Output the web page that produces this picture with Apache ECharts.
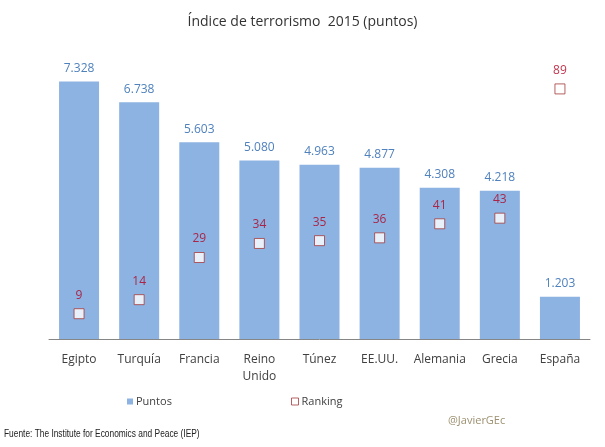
<!DOCTYPE html>
<html><head><meta charset="utf-8">
<script src="https://cdn.jsdelivr.net/npm/echarts@6/dist/echarts.min.js"></script>
<style>html,body{margin:0;padding:0;background:#fff}#c{width:605px;height:447px}</style>
</head><body><div id="c"></div>
<script>
const categories = ['Egipto','Turquía','Francia','Reino\nUnido','Túnez','EE.UU.','Alemania','Grecia','España'];
const puntos = [7.328, 6.738, 5.603, 5.080, 4.963, 4.877, 4.308, 4.218, 1.203];
const ranking = [9, 14, 29, 34, 35, 36, 41, 43, 89];

const chart = echarts.init(document.getElementById('c'), null, {renderer:'canvas'});
const font = '"Open Sans", "DejaVu Sans", sans-serif';
chart.setOption({
  animation:false,
  backgroundColor:'#fff',
  title:{text:'Índice de terrorismo  2015 (puntos)', left:'center', top:10,
    textStyle:{fontFamily:font, fontSize:14, fontWeight:'normal', color:'#333'}},
  grid:{left:49, right:15, top:58, bottom:108},
  legend:[
    {data:[{name:'Puntos', icon:'rect'}], left:127, top:396, padding:0, itemWidth:6, itemHeight:6, itemGap:3,
      textStyle:{fontFamily:font, fontSize:11, color:'#404040', padding:[0,0,0,-2]}},
    {data:[{name:'Ranking', icon:'rect', itemStyle:{color:'#fff', borderColor:'#A5393B', borderWidth:1}}], left:291, top:396, padding:0, itemWidth:7, itemHeight:7, itemGap:3,
      textStyle:{fontFamily:font, fontSize:11, color:'#404040', padding:[0,0,0,-2]}}
  ],
  xAxis:{type:'category', data:categories,
    axisLine:{lineStyle:{color:'#868686'}}, axisTick:{show:false},
    axisLabel:{fontFamily:font, fontSize:12, color:'#404040', margin:12, lineHeight:17, interval:0}},
  yAxis:[
    {type:'value', min:0, max:8, show:false, splitLine:{show:false}},
    {type:'value', min:0, max:100, show:false, splitLine:{show:false}}
  ],
  series:[
    {name:'Puntos', type:'bar', data:puntos, barWidth:40, yAxisIndex:0,
      itemStyle:{color:'#8DB3E2'},
      label:{show:true, position:'top', distance:7, fontFamily:font, fontSize:12, color:'#4F81BD',
        formatter:p=>p.value.toFixed(3)}},
    {name:'Ranking', type:'scatter', data:ranking, yAxisIndex:1, symbol:'rect', symbolSize:10,
      itemStyle:{color:'#fff', borderColor:'#A5393B', borderWidth:1},
      label:{show:true, position:'top', distance:7, fontFamily:font, fontSize:12, color:'#B00020'}}
  ],
  graphic:[
    {type:'text', x:4, y:428, scaleX:0.76, style:{text:'Fuente: The Institute for Economics and Peace (IEP)', fontFamily:'"Liberation Sans", sans-serif', fontSize:11, fill:'#222'}},
    {type:'text', x:448, y:415, style:{text:'@JavierGEc', fontFamily:font, fontSize:11, fill:'#9C9070'}}
  ]
});
</script></body></html>
